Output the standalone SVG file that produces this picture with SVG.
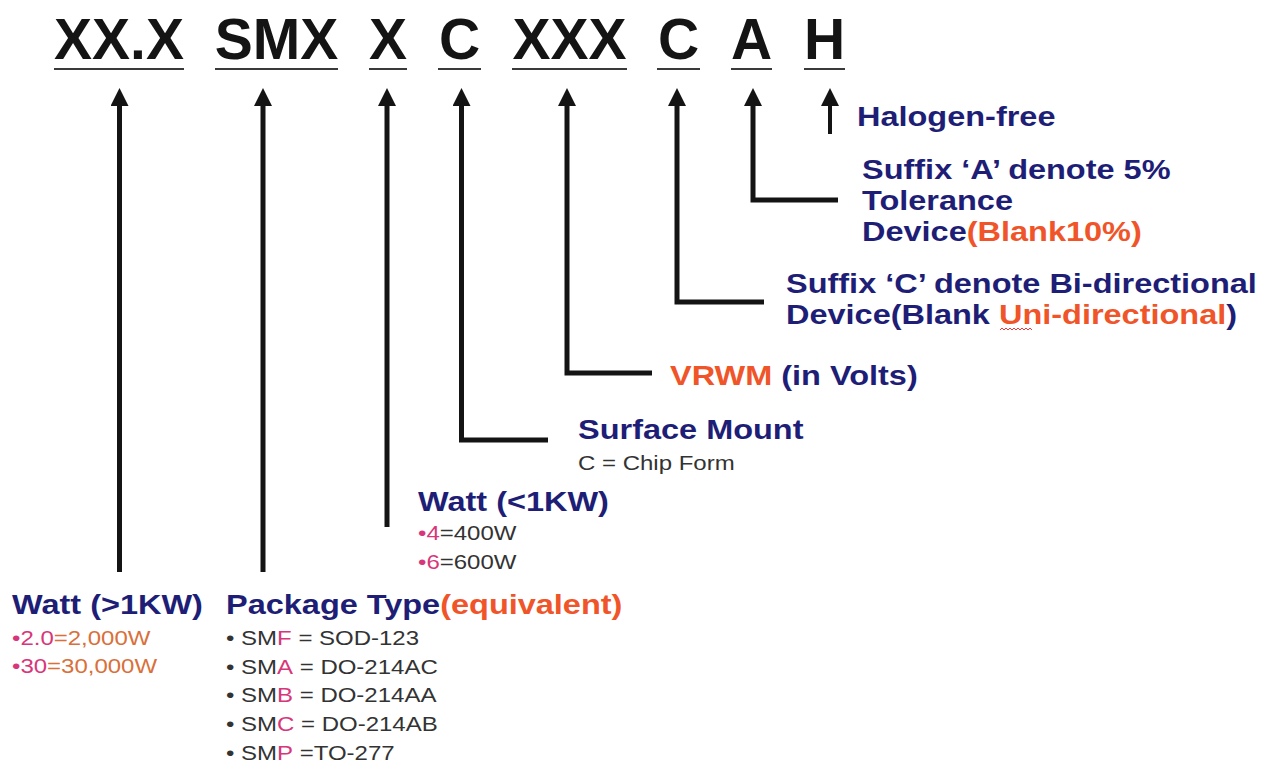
<svg xmlns="http://www.w3.org/2000/svg" width="1273" height="763" viewBox="0 0 1273 763">
<defs>
<style>
.title{font-family:"Liberation Sans",Arial,sans-serif;font-weight:bold;font-size:57px;fill:#141414;text-anchor:middle}
.ul{stroke:#3a3a3a;stroke-width:2}
.hd{font-family:"Liberation Sans",Arial,sans-serif;font-weight:bold;font-size:28px;fill:#1e1e76}
.bd{font-family:"Liberation Sans",Arial,sans-serif;font-size:20px;fill:#333333}
.or{fill:#f0552a}
.pk{fill:#d8367a}
.br{fill:#d9703a}
.conn{fill:none;stroke:#141414;stroke-width:5;stroke-linejoin:miter;marker-end:url(#head)}
</style>
<marker id="head" viewBox="0 0 18 18" refX="6" refY="9" markerWidth="18" markerHeight="18" markerUnits="userSpaceOnUse" orient="auto">
<path d="M0,0 L18,9 L0,18 z" fill="#141414"/>
</marker>
</defs>
<rect width="1273" height="763" fill="#ffffff"/>

<g id="code">
<text class="title" x="119" y="59">XX.X</text>
<text class="title" x="276.5" y="59">SMX</text>
<text class="title" x="388" y="59">X</text>
<text class="title" x="459.5" y="59">C</text>
<text class="title" x="569.5" y="59">XXX</text>
<text class="title" x="678.5" y="59">C</text>
<text class="title" x="751.5" y="59">A</text>
<text class="title" x="824.5" y="59">H</text>
<line class="ul" x1="54" y1="69" x2="184" y2="69"/>
<line class="ul" x1="215" y1="69" x2="338" y2="69"/>
<line class="ul" x1="369" y1="69" x2="407" y2="69"/>
<line class="ul" x1="438" y1="69" x2="481" y2="69"/>
<line class="ul" x1="512" y1="69" x2="627" y2="69"/>
<line class="ul" x1="657" y1="69" x2="700" y2="69"/>
<line class="ul" x1="731" y1="69" x2="772" y2="69"/>
<line class="ul" x1="804" y1="69" x2="845" y2="69"/>
</g>

<g id="connectors">
<path class="conn" d="M119.5,572 V100"/>
<path class="conn" d="M263,572 V100"/>
<path class="conn" d="M387,527 V100"/>
<path class="conn" d="M548,440 H461.5 V100"/>
<path class="conn" d="M652,373 H567 V100"/>
<path class="conn" d="M764,302 H677 V100"/>
<path class="conn" d="M838,200 H753 V100"/>
<path class="conn" d="M830,134 V100" style="stroke-width:4"/>
</g>

<g id="halogen">
<text class="hd" transform="translate(857,126) scale(1.16,1)">Halogen-free</text>
</g>

<g id="suffix-a">
<text class="hd" transform="translate(862,179) scale(1.16,1)">Suffix ‘A’ denote 5%</text>
<text class="hd" transform="translate(862,210) scale(1.16,1)">Tolerance</text>
<text class="hd" transform="translate(862,241) scale(1.16,1)">Device<tspan class="or">(Blank10%)</tspan></text>
</g>

<g id="suffix-c">
<text class="hd" transform="translate(786,293) scale(1.16,1)">Suffix ‘C’ denote Bi-directional</text>
<text class="hd" transform="translate(786,324) scale(1.16,1)">Device(Blank <tspan class="or">Uni-directional</tspan>)</text>
<path d="M1000,330 l2,-2 l2,2 l2,-2 l2,2 l2,-2 l2,2 l2,-2 l2,2 l2,-2 l2,2 l2,-2 l2,2 l2,-2 l2,2 l2,-2 l2,2" fill="none" stroke="#e04040" stroke-width="1"/>
</g>

<g id="vrwm">
<text class="hd" transform="translate(670,385) scale(1.16,1)"><tspan class="or">VRWM</tspan> (in Volts)</text>
</g>

<g id="surface-mount">
<text class="hd" transform="translate(578,439) scale(1.16,1)">Surface Mount</text>
<text class="bd" transform="translate(578,470) scale(1.2,1)">C = Chip Form</text>
</g>

<g id="watt-low">
<text class="hd" transform="translate(418,511) scale(1.16,1)">Watt (&lt;1KW)</text>
<text class="bd" transform="translate(418,540) scale(1.2,1)"><tspan class="pk">•4</tspan>=400W</text>
<text class="bd" transform="translate(418,569) scale(1.2,1)"><tspan class="pk">•6</tspan>=600W</text>
</g>

<g id="watt-high">
<text class="hd" transform="translate(12,614) scale(1.16,1)">Watt (&gt;1KW)</text>
<text class="bd" transform="translate(12,645) scale(1.2,1)"><tspan class="pk">•2.0</tspan><tspan class="br">=2,000W</tspan></text>
<text class="bd" transform="translate(12,673) scale(1.2,1)"><tspan class="pk">•30</tspan><tspan class="br">=30,000W</tspan></text>
</g>

<g id="package-type">
<text class="hd" transform="translate(226,614) scale(1.16,1)">Package Type<tspan class="or">(equivalent)</tspan></text>
<text class="bd" transform="translate(226,645) scale(1.2,1)">• SM<tspan class="pk">F</tspan> = SOD-123</text>
<text class="bd" transform="translate(226,674) scale(1.2,1)">• SM<tspan class="pk">A</tspan> = DO-214AC</text>
<text class="bd" transform="translate(226,702) scale(1.2,1)">• SM<tspan class="pk">B</tspan> = DO-214AA</text>
<text class="bd" transform="translate(226,731) scale(1.2,1)">• SM<tspan class="pk">C</tspan> = DO-214AB</text>
<text class="bd" transform="translate(226,760) scale(1.2,1)">• SM<tspan class="pk">P</tspan> =TO-277</text>
</g>
</svg>
